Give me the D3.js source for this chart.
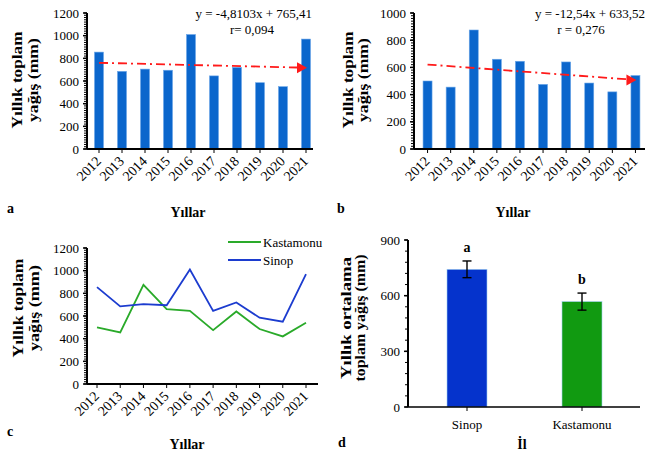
<!DOCTYPE html>
<html>
<head>
<meta charset="utf-8">
<script src="https://cdnjs.cloudflare.com/ajax/libs/d3/7.8.5/d3.min.js"></script>
<style>
    body { margin: 0; background: #fff; }
    .tick-label { font-size: 13px; }
    .year-label { font-size: 14px; }
    .axis-title { font-size: 14px; font-weight: bold; }
    .panel-letter { font-size: 14px; font-weight: bold; }
</style>
</head>
<body>
<svg id="chart" width="645" height="456" font-family="'Liberation Serif', 'DejaVu Serif', serif"></svg>
<script>
const years = ["2012", "2013", "2014", "2015", "2016", "2017", "2018", "2019", "2020", "2021"];
const sinopValues = [855, 685, 705, 695, 1010, 645, 720, 585, 550, 970];
const kastamonuValues = [500, 455, 875, 660, 645, 475, 640, 485, 420, 540];

const sinopTrend = [-4.8103, 765.41];
const kastamonuTrend = [-12.54, 633.52];

const provinces = ["Sinop", "Kastamonu"];
const provinceMeans = [742, 568];
const provinceErrors = [45, 46];
const provinceLetters = ["a", "b"];

const svg = d3.select("#chart");

const barBlue = "#0b66cc";
const lineGreen = "#2aaa2a";
const lineBlue = "#1c3ccf";

function yTitle(g, lines, x1, x2, cy, lengths) {
    [x1, x2].forEach(function(x, i) {
        g.append("text")
            .attr("class", "axis-title")
            .attr("transform", "translate(" + x + "," + cy + ") rotate(-90)")
            .attr("text-anchor", "middle")
            .attr("font-size", 15)
            .attr("textLength", lengths[i])
            .attr("lengthAdjust", "spacingAndGlyphs")
            .text(lines[i]);
    });
}

function drawYAxis(g, y, x, majors, minorStep, maxValue) {
    const minor = d3.range(0, maxValue + 0.1, minorStep);
    g.selectAll(null).data(minor).enter().append("line")
        .attr("x1", x - 3).attr("x2", x)
        .attr("y1", function(d) { return y(d); })
        .attr("y2", function(d) { return y(d); })
        .attr("stroke", "#000").attr("stroke-width", 1);

    g.selectAll(null).data(majors).enter().append("line")
        .attr("x1", x - 4).attr("x2", x)
        .attr("y1", function(d) { return y(d); })
        .attr("y2", function(d) { return y(d); })
        .attr("stroke", "#000").attr("stroke-width", 1.5);

    g.selectAll(null).data(majors).enter().append("text")
        .attr("class", "tick-label")
        .attr("x", x - 8)
        .attr("y", function(d) { return y(d) + 4.5; })
        .attr("text-anchor", "end")
        .text(function(d) { return d; });

    g.append("line")
        .attr("x1", x).attr("x2", x)
        .attr("y1", y(0)).attr("y2", y(maxValue))
        .attr("stroke", "#000").attr("stroke-width", 2);
}

function drawYearAxis(g, xPos, x0, x1, y0) {
    g.append("line")
        .attr("x1", x0).attr("x2", x1)
        .attr("y1", y0).attr("y2", y0)
        .attr("stroke", "#000").attr("stroke-width", 2);

    g.selectAll(null).data(years).enter().append("line")
        .attr("x1", xPos).attr("x2", xPos)
        .attr("y1", y0).attr("y2", y0 + 4)
        .attr("stroke", "#000").attr("stroke-width", 1);

    g.selectAll(null).data(years).enter().append("text")
        .attr("class", "year-label")
        .attr("text-anchor", "end")
        .attr("transform", function(d) {
            return "translate(" + (xPos(d) + 3) + "," + (y0 + 13) + ") rotate(-45)";
        })
        .text(function(d) { return d; });
}

function drawBarPanel(opts) {
    const g = svg.append("g");
    const x = d3.scaleBand().domain(years).range(opts.xRange);
    const xc = function(d) { return x(d) + x.bandwidth() / 2; };
    const y = d3.scaleLinear().domain([0, opts.maxValue]).range([opts.y0, opts.yTop]);

    g.selectAll(".bar").data(opts.values).enter().append("rect")
        .attr("x", function(d, i) { return xc(years[i]) - 4.5; })
        .attr("y", function(d) { return y(d); })
        .attr("width", 9)
        .attr("height", function(d) { return opts.y0 - y(d); })
        .attr("fill", barBlue)
        .attr("stroke", "#6aa6e8")
        .attr("stroke-width", 0.6);

    drawYAxis(g, y, opts.axisX, opts.majors, 20, opts.maxValue);
    drawYearAxis(g, xc, opts.axisX, opts.axisEnd, opts.y0);

    // trend line from the regression equation
    const t1 = opts.trend[1] + opts.trend[0] * 1;
    const t10 = opts.trend[1] + opts.trend[0] * 10;
    const xa = xc(years[0]);
    const xb = xc(years[9]) - 9;
    g.append("line")
        .attr("x1", xa).attr("x2", xb)
        .attr("y1", y(t1)).attr("y2", y(t10 + (t1 - t10) * 9 / (xc(years[9]) - xa)))
        .attr("stroke", "#ff1a1a")
        .attr("stroke-width", 1.8)
        .attr("stroke-dasharray", "9,4,2,4");
    const ty = y(t10);
    const tip = xc(years[9]) + 1;
    g.append("path")
        .attr("d", "M" + tip + "," + ty + "L" + (tip - 10) + "," + (ty - 5.5) + "L" + (tip - 10) + "," + (ty + 5.5) + "Z")
        .attr("fill", "#ff1a1a");

    g.append("text").attr("class", "tick-label")
        .attr("font-size", 14)
        .attr("x", opts.eqX).attr("y", 18)
        .attr("text-anchor", "end")
        .text(opts.eqText);
    g.append("text").attr("class", "tick-label")
        .attr("font-size", 14)
        .attr("x", opts.rX).attr("y", 34)
        .attr("text-anchor", "middle")
        .text(opts.rText);

    yTitle(g, ["Yıllık toplam", "yağış (mm)"], opts.titleX[0], opts.titleX[1], 80, [97, 84]);

    g.append("text").attr("class", "axis-title")
        .attr("x", opts.xTitleX).attr("y", 217)
        .attr("text-anchor", "middle")
        .text("Yıllar");
    g.append("text").attr("class", "panel-letter")
        .attr("x", opts.letterX).attr("y", 213)
        .text(opts.letter);
}

drawBarPanel({
    values: sinopValues, trend: sinopTrend, maxValue: 1200,
    majors: [0, 200, 400, 600, 800, 1000, 1200],
    xRange: [87.5, 317.5], axisX: 87, axisEnd: 313, y0: 149, yTop: 13,
    eqX: 312, eqText: "y = -4,8103x + 765,41", rX: 252, rText: "r= 0,094",
    titleX: [22, 38], xTitleX: 188, letter: "a", letterX: 7
});

drawBarPanel({
    values: kastamonuValues, trend: kastamonuTrend, maxValue: 1000,
    majors: [0, 200, 400, 600, 800, 1000],
    xRange: [416, 647], axisX: 414, axisEnd: 645, y0: 149, yTop: 13,
    eqX: 645, eqText: "y = -12,54x + 633,52", rX: 581, rText: "r = 0,276",
    titleX: [353, 368], xTitleX: 513, letter: "b", letterX: 337
});

// panel c: line chart
(function() {
    const g = svg.append("g");
    const x = d3.scalePoint().domain(years).range([97, 306]);
    const y = d3.scaleLinear().domain([0, 1200]).range([384, 248]);

    const line = d3.line()
        .x(function(d, i) { return x(years[i]); })
        .y(function(d) { return y(d); });

    g.append("path").datum(kastamonuValues)
        .attr("d", line).attr("fill", "none")
        .attr("stroke", lineGreen).attr("stroke-width", 1.8);
    g.append("path").datum(sinopValues)
        .attr("d", line).attr("fill", "none")
        .attr("stroke", lineBlue).attr("stroke-width", 1.8);

    drawYAxis(g, y, 87, [0, 200, 400, 600, 800, 1000, 1200], 20, 1200);
    drawYearAxis(g, x, 87, 318, 384);

    const legend = [["Kastamonu", lineGreen, 242], ["Sinop", lineBlue, 260]];
    legend.forEach(function(item) {
        g.append("line")
            .attr("x1", 228).attr("x2", 261)
            .attr("y1", item[2]).attr("y2", item[2])
            .attr("stroke", item[1]).attr("stroke-width", 1.8);
        g.append("text").attr("class", "tick-label")
            .attr("x", 263).attr("y", item[2] + 4.5)
            .text(item[0]);
    });

    yTitle(g, ["Yıllık toplam", "yağış (mm)"], 23, 39, 308, [99, 86]);

    g.append("text").attr("class", "axis-title")
        .attr("x", 187).attr("y", 449)
        .attr("text-anchor", "middle")
        .text("Yıllar");
    g.append("text").attr("class", "panel-letter")
        .attr("x", 7).attr("y", 436)
        .text("c");
})();

// panel d: mean bars with error bars
(function() {
    const g = svg.append("g");
    const x = d3.scalePoint().domain(provinces).range([467, 582]);
    const y = d3.scaleLinear().domain([0, 900]).range([407, 240]);
    const colors = ["#0533cc", "#119a11"];

    g.selectAll(null).data(provinceMeans).enter().append("rect")
        .attr("x", function(d, i) { return x(provinces[i]) - 20; })
        .attr("y", function(d) { return y(d); })
        .attr("width", 40)
        .attr("height", function(d) { return y(0) - y(d); })
        .attr("fill", function(d, i) { return colors[i]; })
        .attr("stroke", "#9fd0f0")
        .attr("stroke-width", 0.6);

    provinceMeans.forEach(function(m, i) {
        const cx = x(provinces[i]);
        const hi = y(m + provinceErrors[i]);
        const lo = y(m - provinceErrors[i]);
        g.append("line").attr("x1", cx).attr("x2", cx).attr("y1", hi).attr("y2", lo)
            .attr("stroke", "#000").attr("stroke-width", 1.4);
        [hi, lo].forEach(function(v) {
            g.append("line").attr("x1", cx - 4.5).attr("x2", cx + 4.5).attr("y1", v).attr("y2", v)
                .attr("stroke", "#000").attr("stroke-width", 1.4);
        });
        g.append("text").attr("class", "axis-title")
            .attr("x", cx).attr("y", hi - 9)
            .attr("text-anchor", "middle")
            .text(provinceLetters[i]);
    });

    drawYAxis(g, y, 408, [0, 300, 600, 900], 60, 900);

    g.append("line")
        .attr("x1", 408).attr("x2", 640).attr("y1", 407).attr("y2", 407)
        .attr("stroke", "#000").attr("stroke-width", 1.5);
    g.selectAll(null).data(provinces).enter().append("line")
        .attr("x1", x).attr("x2", x).attr("y1", 407).attr("y2", 411)
        .attr("stroke", "#000");
    g.selectAll(null).data(provinces).enter().append("text")
        .attr("class", "tick-label")
        .attr("x", x).attr("y", 429)
        .attr("text-anchor", "middle")
        .text(function(d) { return d; });

    yTitle(g, ["Yıllık ortalama", "toplam yağış (mm)"], 351, 365, 318, [122, 127]);

    g.append("text").attr("class", "axis-title")
        .attr("x", 522).attr("y", 449)
        .attr("text-anchor", "middle")
        .text("İl");
    g.append("text").attr("class", "panel-letter")
        .attr("x", 338).attr("y", 447)
        .text("d");
})();
</script>
</body>
</html>
